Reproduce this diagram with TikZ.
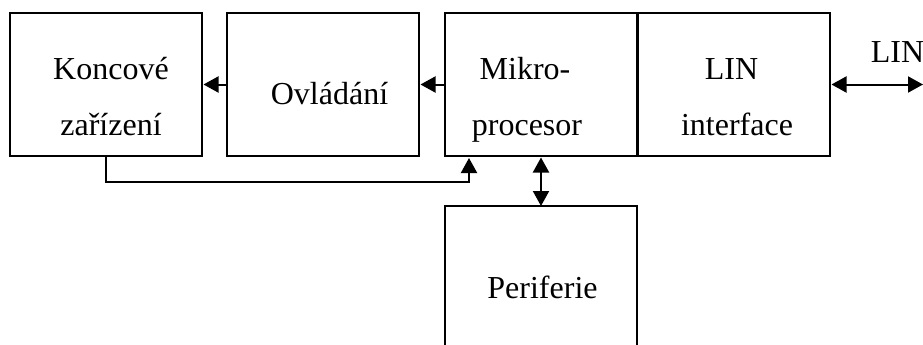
\documentclass[tikz,border=0pt]{standalone}
\usepackage{fontspec}
\setmainfont{Liberation Serif}
\usetikzlibrary{arrows.meta}
\tikzset{
  blockbox/.style={draw=black,line width=2pt,minimum width=192pt,minimum height=143pt,inner sep=0pt,outer sep=0pt,anchor=north west},
  lbl/.style={anchor=base,inner sep=0pt,font=\fontsize{32}{32}\selectfont},
  conn/.style={draw=black,line width=2pt},
  one/.style={conn,-{Triangle[length=15pt,width=16pt]},shorten >=1.5pt},
  both/.style={conn,{Triangle[length=15pt,width=16pt]}-{Triangle[length=15pt,width=16pt]},shorten <=1.5pt}
}
\begin{document}
\begin{tikzpicture}[x=1pt,y=-1pt]
\useasboundingbox (0,0) rectangle (923,345);
\clip (0,0) rectangle (923,345);
\node[blockbox] (kon) at (10,13) {};
\node[blockbox] (ovl) at (227,13) {};
\node[blockbox] (mik) at (445,13) {};
\node[blockbox] (lin) at (638,13) {};
\node[blockbox,minimum height=160pt] (per) at (445,206) {};
\node[lbl] (t1) at (111,79) {Koncové};
\node[lbl] (t2) at (111,135) {zařízení};
\node[lbl] (t3) at (329.5,104) {Ovládání};
\node[lbl] (t4) at (525,79) {Mikro-};
\node[lbl] (t5) at (527,135) {procesor};
\node[lbl] (t6) at (731.5,79) {LIN};
\node[lbl] (t7) at (737,135) {interface};
\node[lbl] (t8) at (542.5,298) {Periferie};
\node[lbl] (t9) at (897.5,63) {LIN};
\coordinate (busend) at (923,84.5);
\coordinate (fbin) at (469,156.5);
\draw[one] (ovl.west) -- (kon.east);
\draw[one] (mik.west) -- (ovl.east);
\draw[both] (lin.east) -- (busend);
\draw[both] (mik.south) -- (per.north);
\draw[one] (kon.south) |- (469,182) -- (fbin);
\end{tikzpicture}
\end{document}
